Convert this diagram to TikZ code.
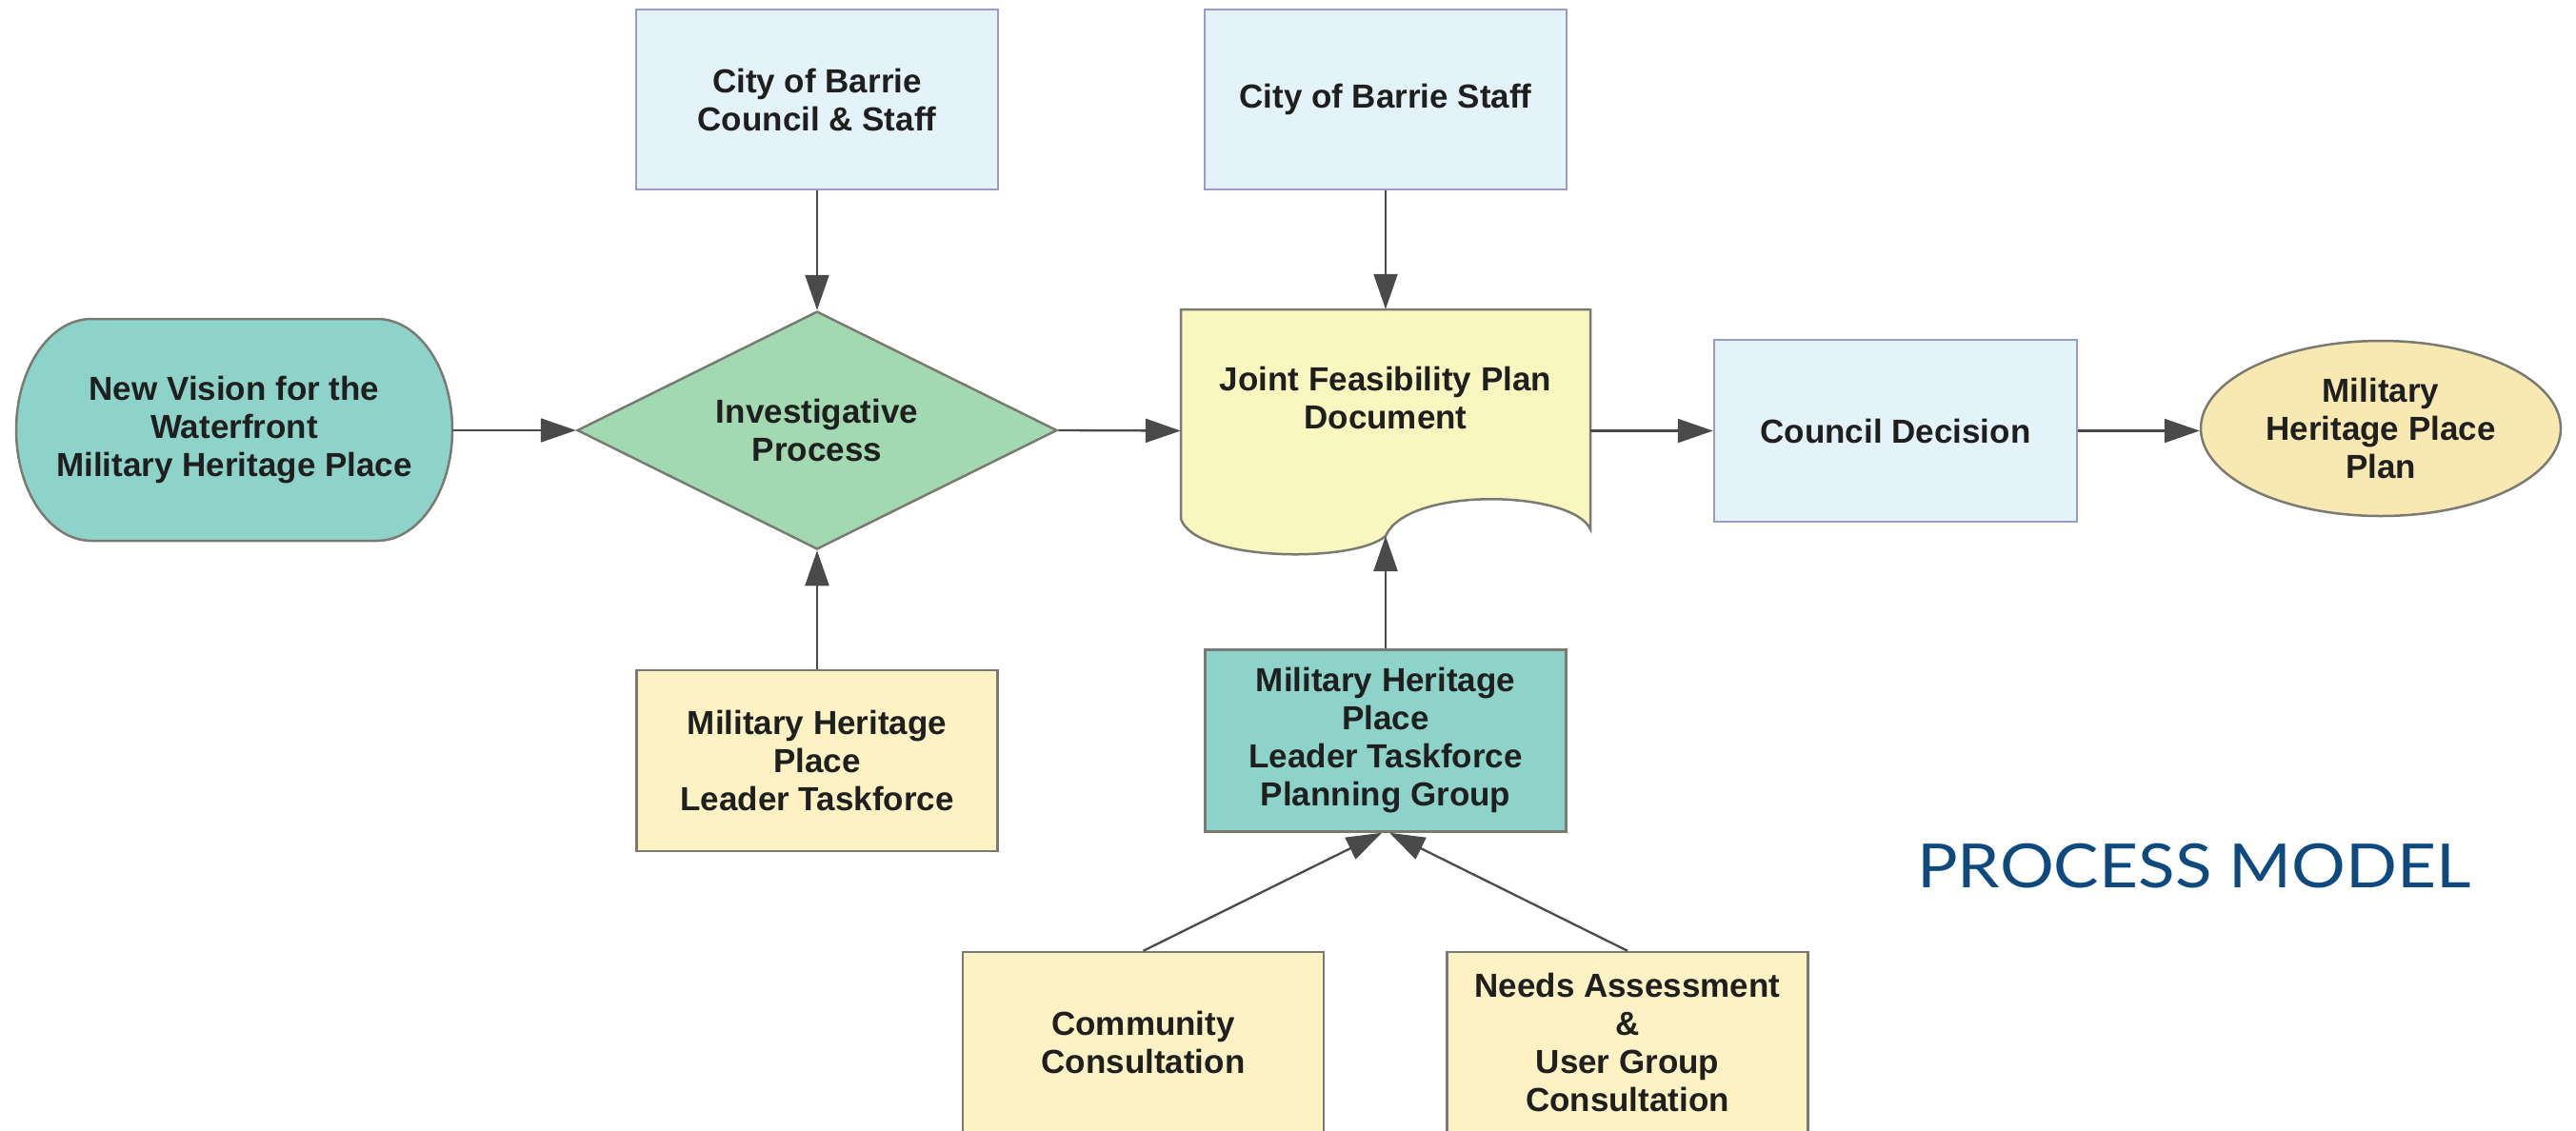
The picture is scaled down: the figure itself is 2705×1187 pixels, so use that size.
\documentclass[tikz,border=0pt]{standalone}
\usepackage{fontspec}
\setmainfont{Liberation Sans}
\newfontfamily\titlefont{Lato}
\usetikzlibrary{shapes.geometric,arrows.meta}
\definecolor{bluefill}{HTML}{E4F3F9}
\definecolor{blueline}{HTML}{9A9ACB}
\definecolor{tealfill}{HTML}{8ED3C9}
\definecolor{greenfill}{HTML}{A3D9B1}
\definecolor{docfill}{HTML}{FAF6C0}
\definecolor{ellfill}{HTML}{F8E9B2}
\definecolor{yelfill}{HTML}{FCF2C4}
\definecolor{grayline}{HTML}{7A7A72}
\definecolor{arrowcol}{HTML}{4A4A4A}
\definecolor{titleblue}{HTML}{0E4A80}
\tikzset{
  lbl/.style={font=\bfseries\fontsize{35}{40}\selectfont, align=center, text=black!88},
  bluebox/.style={lbl, draw=blueline, fill=bluefill, line width=2.5pt, minimum width=380pt, minimum height=189pt, inner sep=0pt},
  yelbox/.style={lbl, draw=grayline, fill=yelfill, line width=2.5pt, minimum width=379pt, minimum height=190pt, inner sep=0pt},
  tealbox/.style={lbl, draw=grayline, fill=tealfill, line width=2.5pt, minimum width=379pt, minimum height=191pt, inner sep=0pt},
  conn/.style={draw=arrowcol, line width=2.3pt, -{Triangle[length=37pt,width=25pt]}},
}
\begin{document}
\begin{tikzpicture}[x=1pt,y=1pt]
\useasboundingbox (0,0) rectangle (2705,-1187);
\clip (0,0) rectangle (2705,-1187);
% New Vision terminator
\draw[draw=grayline, fill=tealfill, line width=2.5pt]
  (96,-335) -- (396,-335) arc[start angle=90, end angle=-90, x radius=79, y radius=116.5]
  -- (96,-568) arc[start angle=270, end angle=90, x radius=79, y radius=116.5] -- cycle;
\node[lbl, minimum width=458pt, minimum height=233pt, inner sep=0pt] (vision) at (246,-452)
  {New Vision for the\\Waterfront\\Military Heritage Place};
% diamond
\node[lbl, diamond, draw=grayline, fill=greenfill, line width=2.5pt, aspect=2, minimum width=504pt, minimum height=250pt, inner sep=0pt] (inv) at (858,-452) {Investigative\\Process};
% top blue boxes
\node[bluebox] (council) at (858,-104.5) {City of Barrie\\Council \& Staff};
\node[bluebox] (staff) at (1455,-104.5) {City of Barrie Staff};
% document
\node[minimum width=430pt, minimum height=255pt, inner sep=0pt] (doc) at (1455,-452.5) {};
\draw[draw=grayline, fill=docfill, line width=2.5pt]
  (1240,-325) -- (1670,-325) -- (1670,-556)
  .. controls (1652,-515) and (1478,-510) .. (1455,-563)
  .. controls (1422,-592) and (1255,-590) .. (1240,-545) -- cycle;
\node[lbl] (doctext) at (1455,-418) {Joint Feasibility Plan\\Document};
\coordinate (docb) at (1455,-563);
% council decision
\node[bluebox, minimum width=381pt, minimum height=191pt] (decision) at (1990.5,-452.5) {Council Decision};
% ellipse
\node[lbl, ellipse, draw=grayline, fill=ellfill, line width=2.5pt, minimum width=378pt, minimum height=184pt, inner sep=0pt] (plan) at (2500,-450) {Military\\Heritage Place\\Plan};
% lower boxes
\node[yelbox] (leader) at (858,-799) {Military Heritage\\Place\\Leader Taskforce};
\node[tealbox] (group) at (1455,-778) {Military Heritage\\Place\\Leader Taskforce\\Planning Group};
\node[yelbox] (community) at (1200.5,-1095) {Community\\Consultation};
\node[yelbox] (needs) at (1709,-1095) {Needs Assessment\\\&\\User Group\\Consultation};
% title
\node[font=\titlefont\fontsize{64}{70}\selectfont, text=titleblue, inner sep=0pt, xscale=1.11] (title) at (2304,-910) {PROCESS MODEL};
% connectors
\draw[conn] (vision.east) -- (inv.west);
\draw[conn] (inv.east) -- (doc.west);
\draw[conn] (doc.east) -- (decision.west);
\draw[conn] (decision.east) -- (decision.east -| plan.west);
\draw[conn] (council.south) -- (inv.north);
\draw[conn] (leader.north) -- (inv.south);
\draw[conn] (staff.south) -- (doc.north);
\draw[conn] (group.north) -- (docb);
\draw[conn] (community.north) -- ([xshift=-4pt]group.south);
\draw[conn] (needs.north) -- ([xshift=4pt]group.south);
\end{tikzpicture}
\end{document}
